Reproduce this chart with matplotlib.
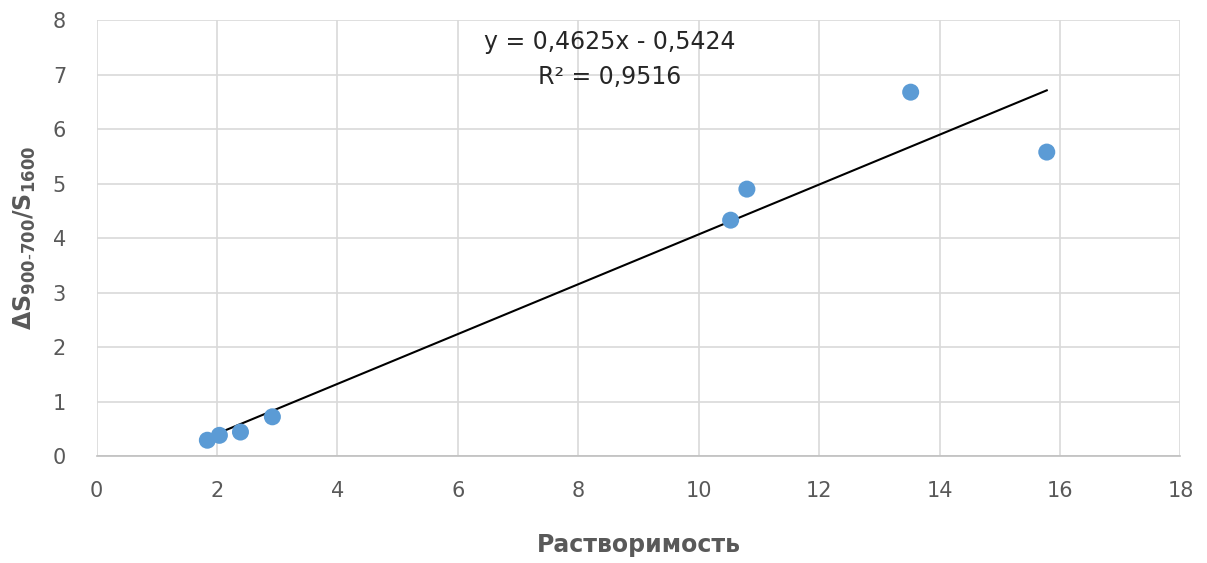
import numpy as np
import matplotlib.pyplot as plt

# data
solubility = [1.84, 2.04, 2.39, 2.92, 10.53, 10.80, 13.52, 15.78]
ratio = [0.29, 0.38, 0.44, 0.72, 4.33, 4.90, 6.68, 5.58]
x_ticks = [0, 2, 4, 6, 8, 10, 12, 14, 16, 18]
y_ticks = [0, 1, 2, 3, 4, 5, 6, 7, 8]
eq_text = "y = 0,4625x - 0,5424\nR² = 0,9516"

grey = '#595959'

fig = plt.figure(figsize=(12.07, 5.63), dpi=100)
ax = fig.add_axes([0.080, 0.19, 0.898, 0.774])

x = np.array(solubility)
y = np.array(ratio)
k, b = np.polyfit(x, y, 1)
xl = np.array([x.min(), x.max()])
ax.plot(xl, k * xl + b, color='black', lw=1.5, zorder=2)
ax.scatter(x, y, s=150, color='#5B9BD5', edgecolors='none', zorder=3)

ax.set_xlim(0, 18)
ax.set_ylim(0, 8)
ax.set_xticks(x_ticks)
ax.set_yticks(y_ticks)
ax.grid(True, color='#d9d9d9', lw=1.2)
ax.set_axisbelow(True)
for s in ['top', 'right', 'left']:
    ax.spines[s].set_visible(False)
ax.spines['bottom'].set_color('#bfbfbf')
ax.spines['bottom'].set_linewidth(1.2)
ax.tick_params(length=0, labelsize=15, labelcolor=grey)
ax.tick_params(axis='x', pad=18)
ax.tick_params(axis='y', pad=22)

ax.set_xlabel('Растворимость', fontsize=17, fontweight='bold', color=grey)
ax.xaxis.set_label_coords(0.5, -0.204)
ax.xaxis.label.set_va('center')
ax.set_ylabel(r'$\mathbf{\Delta S_{900\text{-}700}/S_{1600}}$', fontsize=17, color=grey)
ax.yaxis.set_label_coords(-0.066, 0.5)
ax.yaxis.label.set_va('center')

ax.text(8.52, 7.28, eq_text, ha='center', va='center', fontsize=17,
        color='#262626', linespacing=1.6)

fig.savefig('out.png', dpi=100)
